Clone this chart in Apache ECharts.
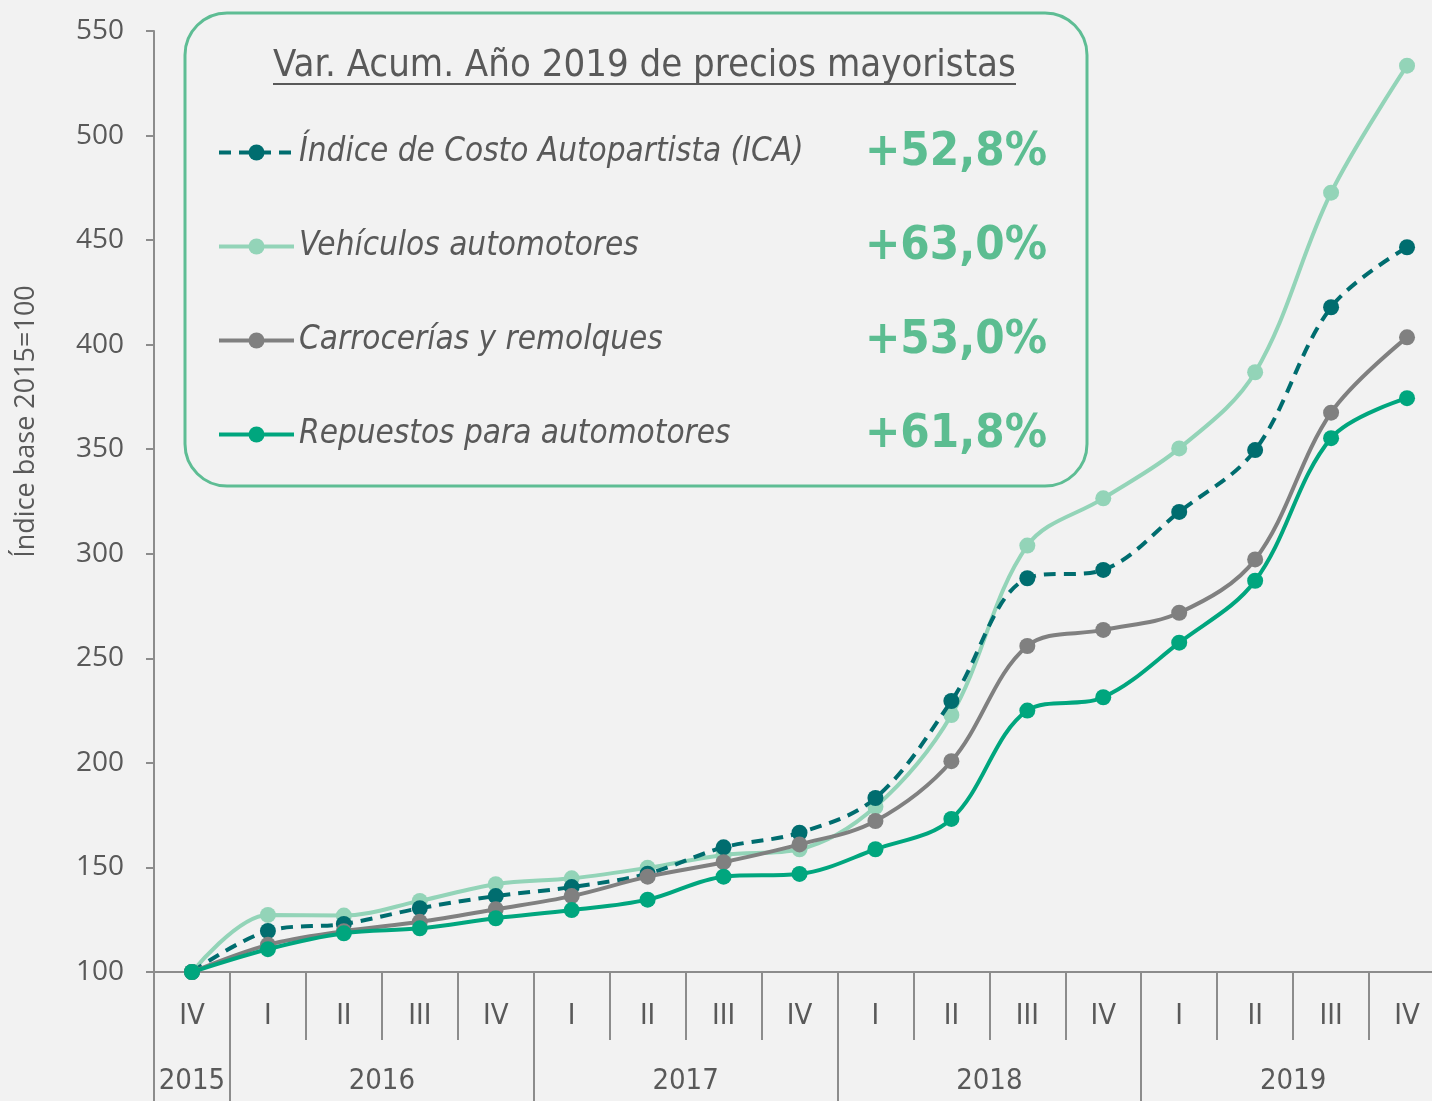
<!DOCTYPE html>
<html>
<head>
<meta charset="utf-8">
<script src="https://cdn.jsdelivr.net/npm/echarts@6/dist/echarts.min.js"></script>
<style>
html,body{margin:0;padding:0;background:#f2f2f2;}
#c{width:1432px;height:1101px;}
</style>
</head>
<body>
<div id="c"></div>
<script>
// ---- data ----
var quarters = ['IV','I','II','III','IV','I','II','III','IV','I','II','III','IV','I','II','III','IV'];
var years = ['2015','2016','2017','2018','2019'];
var yearSpans = [1,4,4,4,4];
var yTicks = [100,150,200,250,300,350,400,450,500,550];

var seriesNames = ['Índice de Costo Autopartista (ICA)','Vehículos automotores','Carrocerías y remolques','Repuestos para automotores'];
var seriesPct = ['+52,8%','+63,0%','+53,0%','+61,8%'];

var ica  = [100,119.6,123,130.5,136.3,140.6,147,159.6,166.6,183.2,229.6,288.3,292.3,320,349.6,417.9,446.6];
var veh  = [100,127.3,127,134,142,144.8,149.8,156,158.7,179,222.9,303.9,326.5,350.4,386.8,472.7,533.4];
var carr = [100,113,119.5,124,130,136.3,145.6,152.5,161,172.2,200.8,255.9,263.6,271.8,297.3,367.5,403.5];
var rep  = [100,110.9,118.5,120.9,125.7,129.6,134.6,145.6,146.9,158.7,173.2,225,231.4,257.5,287.1,355.3,374.4];

var colors = ['#006d6f','#93d4b8','#808080','#00a67e'];
var seriesData = [ica, veh, carr, rep];

// ---- derived ----
var bounds = [0];
yearSpans.forEach(function(s){ bounds.push(bounds[bounds.length-1] + s); });
var yearCenters = [];
for (var i = 0; i < years.length; i++) yearCenters.push((bounds[i] + bounds[i+1]) / 2);

var narrow = '"Liberation Sans Narrow","DejaVu Sans Condensed",sans-serif';
var axisColor = '#8c8c8c';
var textColor = '#595959';

var chart = echarts.init(document.getElementById('c'), null, {renderer:'canvas'});

var series = seriesData.map(function(d, i){
  return {
    name: seriesNames[i],
    type: 'line',
    data: d,
    smooth: 0.35,
    symbol: 'circle',
    symbolSize: 16,
    z: [3,2,4,5][i],
    lineStyle: { color: colors[i], width: 4, type: i === 0 ? [12, 8] : 'solid' },
    itemStyle: { color: colors[i] },
    xAxisIndex: 0
  };
});

var option = {
  backgroundColor: '#f2f2f2',
  animation: false,
  grid: { left: 154, width: 1291, top: 31, height: 941, outerBoundsMode: 'none', containLabel: false },
  xAxis: [
    {
      type: 'category',
      data: quarters,
      boundaryGap: true,
      position: 'bottom',
      axisLine: { show: true, lineStyle: { color: axisColor, width: 2 } },
      axisTick: { show: true, interval: 0, length: 68, lineStyle: { color: axisColor, width: 2 } },
      axisLabel: { interval: 0, margin: 30, fontFamily: narrow, fontSize: 29, color: textColor }
    },
    {
      type: 'value',
      min: 0,
      max: quarters.length,
      position: 'bottom',
      offset: 68,
      axisLine: { show: false },
      splitLine: { show: false },
      axisTick: { show: true, customValues: bounds, length: 70, lineStyle: { color: axisColor, width: 2 } },
      axisLabel: {
        customValues: yearCenters,
        margin: 27,
        fontFamily: narrow, fontSize: 29, color: textColor,
        formatter: function(v){
          for (var i = 0; i < yearCenters.length; i++) if (Math.abs(yearCenters[i] - v) < 1e-6) return years[i];
          return '';
        }
      }
    }
  ],
  yAxis: {
    type: 'value',
    min: 100, max: 550, interval: 50,
    name: 'Índice base 2015=100',
    nameLocation: 'middle',
    nameGap: 114,
    nameTextStyle: { fontFamily: '"Open Sans",sans-serif', fontSize: 27, color: textColor, padding: [0,0,0,160] },
    axisLine: { show: true, lineStyle: { color: axisColor, width: 2 } },
    axisTick: { show: true, length: 8, lineStyle: { color: axisColor, width: 2 } },
    splitLine: { show: false },
    axisLabel: { margin: 30, fontFamily: '"Open Sans",sans-serif', fontSize: 28, color: textColor,
      customValues: yTicks }
  },
  legend: {
    orient: 'vertical',
    left: 185, top: 13,
    padding: [116, 40, 28, 32],
    itemGap: 47,
    itemWidth: 75, itemHeight: 20,
    borderColor: '#5ebd94', borderWidth: 3, borderRadius: 42,
    backgroundColor: 'transparent',
    lineStyle: { width: 4 },
    data: seriesNames,
    formatter: function(name){
      var i = seriesNames.indexOf(name);
      return '{n|' + name + '}{v|' + seriesPct[i] + '}';
    },
    textStyle: {
      rich: {
        n: { fontFamily: narrow, fontStyle: 'italic', fontSize: 33, color: textColor, width: 573 },
        v: { fontFamily: narrow, fontWeight: 'bold', fontSize: 47, color: '#5cbd91', width: 175, align: 'right' }
      }
    }
  },
  graphic: [
    { type: 'text', left: 273, top: 47, style: { text: 'Var. Acum. Año 2019 de precios mayoristas', fontFamily: narrow, fontSize: 38, fill: textColor } },
    { type: 'line', shape: { x1: 273, y1: 84, x2: 1016, y2: 84 }, style: { stroke: textColor, lineWidth: 2 } }
  ],
  series: series
};
chart.setOption(option);
</script>
</body>
</html>
